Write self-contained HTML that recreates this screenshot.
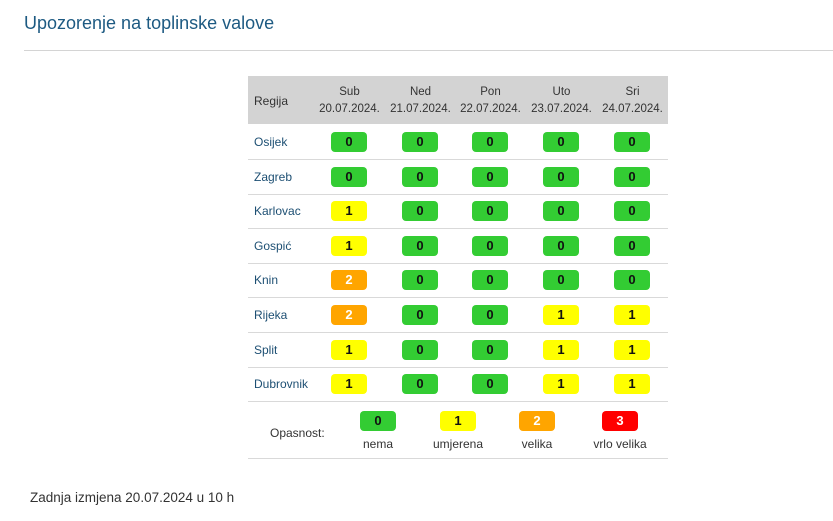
<!DOCTYPE html>
<html><head><meta charset="utf-8"><style>
body{margin:0;width:833px;height:521px;background:#fff;font-family:"Liberation Sans",sans-serif;position:relative;overflow:hidden;color:#333}
.a{position:absolute}
.t{left:24px;top:13px;font-size:18px;color:#1d5a82}
.hl{left:24px;top:50px;width:809px;height:1px;background:#d4d4d4}
.hd{left:248px;top:76px;width:420px;height:48px;background:#d3d3d3}
.hc{font-size:11.5px;color:#333;text-align:center;line-height:17px;width:71px}
.rl{font-size:12px;color:#1d4f73;left:254px}
.sep{left:248px;width:420px;height:1px;background:#d9d9d9}
.b{width:36px;height:20px;border-radius:4px;font-size:13px;font-weight:bold;text-align:center;line-height:20px;color:#111}
.g{background:#33cc33}.y{background:#ffff00}.o{background:#ffa500;color:#fff}.r{background:#ff0000;color:#fff}
.lt{font-size:12px;text-align:center;width:90px}
</style></head><body>
<div class="a t">Upozorenje na toplinske valove</div>
<div class="a hl"></div>
<div class="a hd"></div>
<div class="a" style="left:254px;top:94px;font-size:12px">Regija</div>
<div class="a hc" style="left:314px;top:84px">Sub<br>20.07.2024.</div>
<div class="a hc" style="left:385px;top:84px">Ned<br>21.07.2024.</div>
<div class="a hc" style="left:455px;top:84px">Pon<br>22.07.2024.</div>
<div class="a hc" style="left:526px;top:84px">Uto<br>23.07.2024.</div>
<div class="a hc" style="left:597px;top:84px">Sri<br>24.07.2024.</div>
<div id="rows"></div>
<script>
var names=["Osijek","Zagreb","Karlovac","Gospić","Knin","Rijeka","Split","Dubrovnik"];
var vals=["00000","00000","10000","10000","20000","20011","10011","10011"];
var cx=[349,420,490,561,632],cls={"0":"g","1":"y","2":"o","3":"r"};
var h="";
for(var i=0;i<8;i++){var c=142+i*34.6;
h+='<div class="a rl" style="top:'+(c-7)+'px">'+names[i]+'</div>';
for(var j=0;j<5;j++){var v=vals[i][j];h+='<div class="a b '+cls[v]+'" style="left:'+(cx[j]-18)+'px;top:'+(c-10)+'px">'+v+'</div>';}
h+='<div class="a sep" style="top:'+Math.round(c+17)+'px"></div>';}
document.getElementById("rows").innerHTML=h;
</script>
<div class="a" style="left:270px;top:426px;font-size:12px">Opasnost:</div>
<div class="a b g" style="left:360px;top:411px">0</div>
<div class="a b y" style="left:440px;top:411px">1</div>
<div class="a b o" style="left:519px;top:411px">2</div>
<div class="a b r" style="left:602px;top:411px">3</div>
<div class="a lt" style="left:333px;top:437px">nema</div>
<div class="a lt" style="left:413px;top:437px">umjerena</div>
<div class="a lt" style="left:492px;top:437px">velika</div>
<div class="a lt" style="left:575px;top:437px">vrlo velika</div>
<div class="a sep" style="top:458px"></div>
<div class="a" style="left:30px;top:490px;font-size:13.5px">Zadnja izmjena 20.07.2024 u 10 h</div>
</body></html>
